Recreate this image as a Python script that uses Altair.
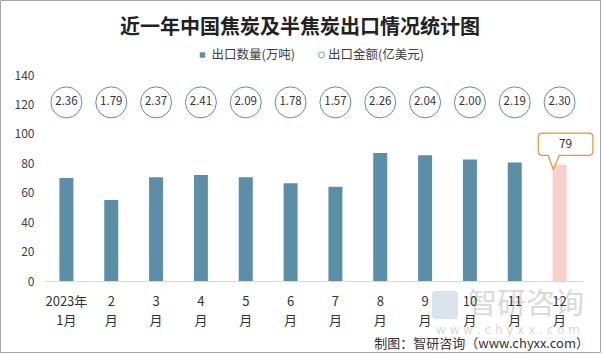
import altair as alt
import pandas as pd

# ---- data ----
months = ["2023年\n1月", "2\n月", "3\n月", "4\n月", "5\n月", "6\n月",
          "7\n月", "8\n月", "9\n月", "10\n月", "11\n月", "12\n月"]
export_volume = [70, 55, 70.5, 72, 70.5, 66.5, 64, 87, 85.5, 82.5, 80.5, 79]  # 万吨
export_value = [2.36, 1.79, 2.37, 2.41, 2.09, 1.78, 1.57, 2.26, 2.04, 2.00, 2.19, 2.30]  # 亿美元
y_ticks = [0, 20, 40, 60, 80, 100, 120, 140]

title_text = "近一年中国焦炭及半焦炭出口情况统计图"
legend_volume = "出口数量(万吨)"
legend_value = "出口金额(亿美元)"
source_text = "制图：智研咨询（www.chyxx.com）"

FONT = "Noto Sans CJK SC"
BAR = "#5b8fa7"
HIGHLIGHT = "#f8d0c8"
CIRCLE = "#5a8ea6"
ORANGE = "#ef8f34"

W, H = 538, 206

df = pd.DataFrame({
    "month": months,
    "volume": export_volume,
    "value": export_value,
    "flag": ["normal"] * (len(months) - 1) + ["last"],
})
df["value_label"] = [f"{v:.2f}" for v in export_value]

x_enc = alt.X("month:N", sort=months,
              scale=alt.Scale(paddingInner=0, paddingOuter=0),
              axis=alt.Axis(title=None, labels=False, ticks=False,
                            domainColor="#d9d9d9", domainWidth=1))
y_scale = alt.Scale(domain=[0, 140], nice=False)
y_axis = alt.Axis(title=None, values=y_ticks, grid=False, domain=False,
                  ticks=False, labelPadding=10, labelFont=FONT,
                  labelFontSize=12, labelColor="#404040", labelOverlap=False)

base = alt.Chart(df)

bars = base.mark_bar(width=14).encode(
    x=x_enc,
    y=alt.Y("volume:Q", scale=y_scale, axis=y_axis),
    color=alt.Color("flag:N", scale=alt.Scale(domain=["normal", "last"],
                                              range=[BAR, HIGHLIGHT]), legend=None),
)

circles = base.mark_point(shape="circle", size=961, filled=True, fill="white",
                          stroke=CIRCLE, strokeWidth=1, opacity=1).encode(
    x=alt.X("month:N", sort=months),
    y=alt.Y(datum=121.4, axis=y_axis),
)
circle_text = base.mark_text(font=FONT, fontSize=11.5, color="#333333",
                             baseline="middle").encode(
    x=alt.X("month:N", sort=months),
    y=alt.Y(datum=121.4, axis=y_axis),
    text="value_label:N",
)

month_labels = base.mark_text(font=FONT, fontSize=13, color="#333333",
                              baseline="top", lineBreak="\n", lineHeight=19).encode(
    x=alt.X("month:N", sort=months),
    y=alt.value(H + 15),
    text="month:N",
)

callout_path = ("M-0.85,-0.41 L0.85,-0.41 Q1,-0.41 1,-0.26 L1,0.26 Q1,0.41 0.85,0.41 "
                "L-0.23,0.41 L-0.45,0.92 L-0.64,0.41 L-0.85,0.41 Q-1,0.41 -1,0.26 "
                "L-1,-0.26 Q-1,-0.41 -0.85,-0.41 Z")
last = base.transform_filter(alt.datum.flag == "last")
callout = last.mark_point(shape=callout_path, size=2981, filled=True, fill="white",
                          stroke=ORANGE, strokeWidth=1.2, opacity=1,
                          xOffset=6, yOffset=-20.5).encode(
    x=alt.X("month:N", sort=months),
    y=alt.Y("volume:Q", axis=y_axis),
)
callout_text = last.mark_text(font=FONT, fontSize=12, color="#333333",
                              baseline="middle", xOffset=6, yOffset=-20.5).encode(
    x=alt.X("month:N", sort=months),
    y=alt.Y("volume:Q", axis=y_axis),
    text=alt.Text("volume:Q", format=".0f"),
)

# ---- decorations (title, legend, source, watermark, frame) ----
deco = alt.Chart(pd.DataFrame({"k": [0]}))

title = deco.mark_text(text=title_text, font=FONT, fontSize=20, fontWeight="bold",
                       color="#222222", align="center", baseline="middle").encode(
    x=alt.value(256), y=alt.value(-47.5))

leg_sq = deco.mark_point(shape="square", size=30, filled=True, color=BAR,
                         opacity=1).encode(x=alt.value(158.5), y=alt.value(-20))
leg_sq_t = deco.mark_text(text=legend_volume, font=FONT, fontSize=12.5,
                          color="#404040", align="left", baseline="middle").encode(
    x=alt.value(167.5), y=alt.value(-20))
leg_ci = deco.mark_point(shape="circle", size=34, filled=False, stroke="#8fb3c8",
                         strokeWidth=1.2, opacity=1).encode(
    x=alt.value(277.5), y=alt.value(-20))
leg_ci_t = deco.mark_text(text=legend_value, font=FONT, fontSize=12.5,
                          color="#404040", align="left", baseline="middle").encode(
    x=alt.value(284), y=alt.value(-20))

wm1 = deco.mark_text(text="智研咨询", font=FONT, fontSize=29, color="#d9d9d9",
                     align="center", baseline="middle").encode(
    x=alt.value(482), y=alt.value(230))
wm2 = deco.mark_text(text="w w w . c h y x x . c o m", font="DejaVu Sans", fontSize=12,
                     color="#d9d9d9", align="center", baseline="middle").encode(
    x=alt.value(464), y=alt.value(255))
wm_logo = deco.mark_rect(color="#dbe4ee", cornerRadius=3).encode(
    x=alt.value(388), x2=alt.value(414), y=alt.value(216), y2=alt.value(244))

source = deco.mark_text(text=source_text, font=FONT, fontSize=13, color="#333333",
                        align="right", baseline="middle").encode(
    x=alt.value(545), y=alt.value(269))

frame = deco.mark_rect(fillOpacity=0, stroke="#a6a6a6", strokeWidth=1).encode(
    x=alt.value(-43.5), x2=alt.value(556.5), y=alt.value(-74.5), y2=alt.value(277.5))

chart = alt.layer(
    wm_logo, wm1, wm2,
    bars, circles, circle_text, month_labels, callout, callout_text,
    title, leg_sq, leg_sq_t, leg_ci, leg_ci_t, source, frame,
).properties(
    width=W, height=H,
    autosize=alt.AutoSizeParams(type="none"),
    padding={"left": 44, "top": 75, "right": 20, "bottom": 74},
    background="white",
).configure_view(stroke=None).configure_axisY(labelOverlap=False)

chart.save("out.html", embed_options={"renderer": "svg", "actions": False})
